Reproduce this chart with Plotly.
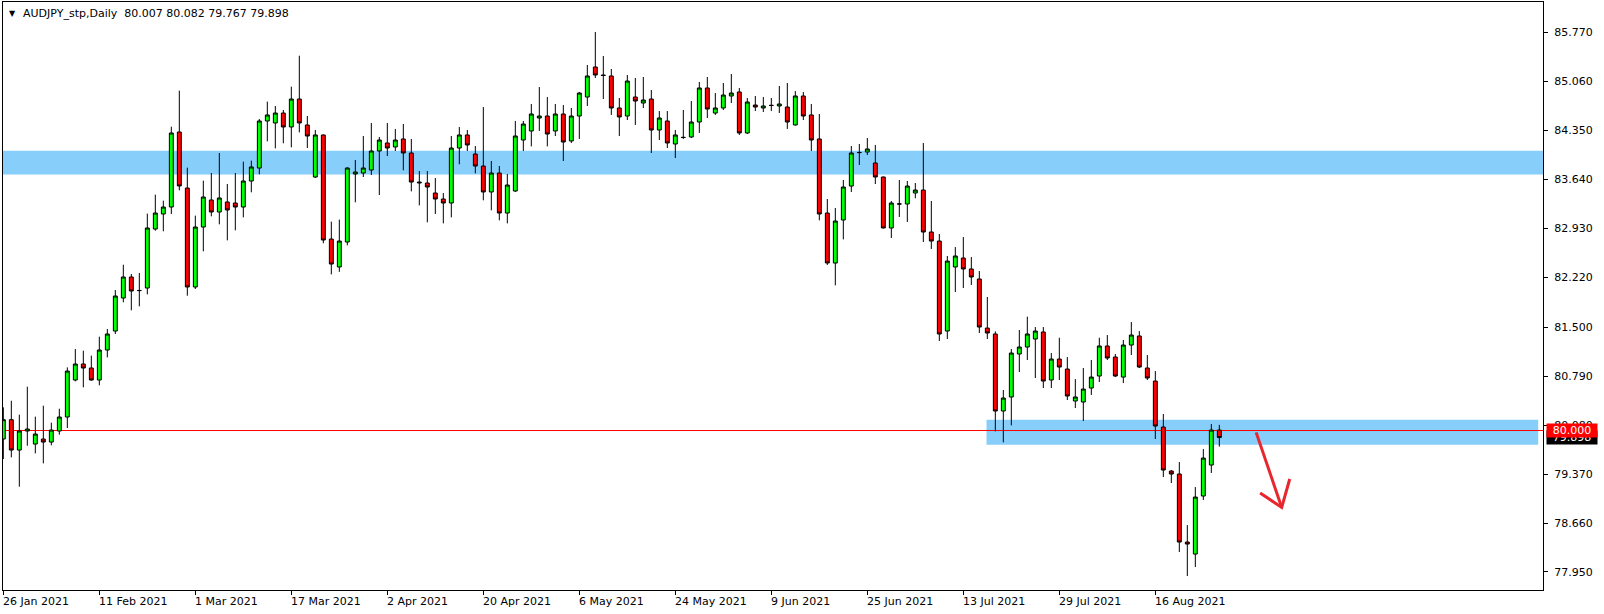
import plotly.graph_objects as go

# ---------------- data ----------------
OPEN = [79.877, 80.157, 79.717, 79.993, 79.804, 79.877, 79.833, 79.993, 80.196, 80.732,
        80.964, 80.906, 80.732, 81.167, 81.442, 81.920, 82.225, 82.030, 82.065, 82.920,
        83.138, 83.239, 84.326, 83.514, 82.080, 82.949, 83.341, 83.167, 83.312, 83.297,
        83.239, 83.616, 83.804, 84.486, 84.457, 84.601, 84.399, 84.804, 84.428, 83.674,
        84.283, 82.775, 82.370, 82.732, 83.717, 83.732, 83.775, 84.051, 84.167, 84.109,
        84.225, 84.022, 83.601, 83.587, 83.442, 83.355, 83.297, 84.094, 84.283, 84.007,
        83.833, 83.457, 83.732, 83.152, 83.471, 84.210, 84.341, 84.529, 84.558, 84.341,
        84.587, 84.196, 84.558, 84.833, 85.268, 85.152, 85.138, 84.674, 84.558, 84.833,
        84.746, 84.804, 84.355, 84.486, 84.152, 84.246, 84.254, 84.471, 84.964, 84.601,
        84.674, 84.848, 84.906, 84.312, 84.717, 84.674, 84.710, 84.703, 84.688, 84.428,
        84.848, 84.573, 84.225, 83.152, 82.427, 83.051, 83.543, 84.030, 84.036, 83.877,
        83.674, 82.935, 83.282, 83.283, 83.442, 83.485, 82.877, 82.746, 81.442, 82.370,
        82.500, 82.341, 82.196, 81.485, 81.399, 80.283, 80.486, 81.109, 81.210, 81.326,
        81.428, 80.732, 81.036, 80.891, 80.428, 80.413, 80.616, 80.790, 81.225, 81.065,
        80.775, 81.239, 81.370, 80.906, 80.717, 80.051, 79.413, 79.370, 78.384, 78.210,
        79.051, 79.500, 80.007]
HIGH = [80.336, 80.432, 80.230, 80.635, 80.201, 80.360, 80.114, 80.316, 80.915, 81.181,
        81.157, 81.085, 81.360, 81.471, 82.036, 82.403, 82.268, 82.283, 83.143, 83.418,
        83.331, 84.403, 84.925, 83.809, 83.114, 83.621, 83.732, 84.022, 83.573, 83.732,
        83.896, 83.911, 84.515, 84.766, 84.703, 84.645, 84.983, 85.432, 84.558, 84.355,
        84.290, 83.027, 83.056, 83.815, 83.920, 84.268, 84.457, 84.254, 84.457, 84.370,
        84.442, 84.225, 83.761, 83.761, 83.659, 83.442, 84.268, 84.399, 84.355, 84.123,
        84.688, 83.906, 83.833, 83.717, 84.486, 84.486, 84.732, 84.978, 84.833, 84.732,
        84.717, 84.674, 84.906, 85.297, 85.775, 85.428, 85.239, 84.819, 85.152, 85.109,
        85.123, 84.935, 84.630, 84.630, 84.355, 84.645, 84.775, 85.051, 85.123, 84.891,
        85.036, 85.167, 84.964, 84.819, 84.848, 84.833, 84.819, 84.993, 85.036, 84.920,
        84.906, 84.732, 84.587, 83.355, 83.225, 83.630, 84.123, 84.152, 84.239, 84.138,
        83.680, 83.326, 83.630, 83.616, 83.587, 84.167, 83.326, 82.848, 82.529, 82.659,
        82.804, 82.514, 82.312, 81.935, 81.437, 80.587, 81.181, 81.457, 81.650, 81.500,
        81.500, 81.123, 81.345, 81.065, 80.746, 80.906, 81.022, 81.345, 81.384, 81.109,
        81.312, 81.572, 81.442, 81.094, 80.862, 80.239, 79.428, 79.543, 78.630, 79.181,
        79.732, 80.094, 80.082]
LOW = [79.587, 79.611, 79.186, 79.780, 79.669, 79.524, 79.785, 79.940, 80.036, 80.713,
       80.626, 80.722, 80.655, 81.060, 81.399, 81.858, 81.742, 81.800, 81.973, 82.896,
       82.887, 83.138, 83.481, 81.954, 82.051, 82.597, 83.104, 82.988, 82.756, 82.901,
       83.089, 83.452, 83.713, 84.191, 84.089, 84.162, 84.104, 84.321, 84.094, 83.660,
       82.713, 82.263, 82.300, 82.684, 83.307, 83.674, 83.703, 83.413, 83.978, 84.051,
       83.771, 83.466, 83.263, 83.017, 83.138, 83.002, 83.089, 83.858, 84.051, 83.727,
       83.336, 83.191, 83.046, 83.002, 83.457, 84.051, 84.118, 84.341, 84.118, 84.268,
       83.906, 84.167, 84.225, 84.703, 85.109, 84.804, 84.573, 84.268, 84.500, 84.428,
       84.674, 84.022, 84.210, 84.094, 83.949, 84.225, 84.239, 84.312, 84.529, 84.573,
       84.645, 84.746, 84.283, 84.297, 84.630, 84.616, 84.630, 84.601, 84.370, 84.420,
       84.500, 84.051, 83.046, 82.399, 82.104, 82.770, 83.456, 83.848, 83.993, 83.572,
       82.930, 82.790, 83.094, 83.022, 83.365, 82.732, 82.630, 81.297, 81.326, 82.007,
       82.065, 82.109, 81.413, 81.326, 79.988, 79.829, 80.075, 80.848, 81.022, 80.761,
       80.616, 80.616, 80.732, 80.442, 80.326, 80.138, 80.515, 80.703, 81.022, 80.775,
       80.688, 81.094, 80.906, 80.732, 79.877, 79.326, 79.239, 78.239, 77.891, 78.022,
       78.993, 79.384, 79.767]
CLOSE = [80.157, 79.717, 79.993, 80.022, 79.949, 79.833, 80.007, 80.196, 80.862, 80.964,
         80.906, 80.732, 81.167, 81.399, 81.949, 82.225, 82.022, 82.028, 82.935, 83.152,
         83.239, 84.312, 83.544, 82.080, 82.949, 83.384, 83.167, 83.370, 83.196, 83.239,
         83.616, 83.819, 84.486, 84.573, 84.601, 84.399, 84.804, 84.457, 84.268, 84.283,
         82.761, 82.413, 82.746, 83.804, 83.746, 83.804, 84.051, 84.210, 84.094, 84.210,
         84.022, 83.601, 83.590, 83.529, 83.355, 83.297, 84.094, 84.283, 84.138, 83.833,
         83.457, 83.732, 83.152, 83.558, 84.268, 84.442, 84.587, 84.558, 84.297, 84.587,
         84.181, 84.558, 84.891, 85.138, 85.152, 85.145, 84.674, 84.544, 85.065, 84.775,
         84.790, 84.355, 84.529, 84.167, 84.283, 84.248, 84.471, 84.964, 84.659, 84.674,
         84.862, 84.891, 84.312, 84.761, 84.688, 84.703, 84.712, 84.732, 84.471, 84.848,
         84.558, 84.210, 83.138, 82.428, 83.036, 83.529, 84.022, 84.028, 84.080, 83.674,
         82.935, 83.297, 83.284, 83.543, 83.485, 82.877, 82.746, 81.399, 82.456, 82.529,
         82.341, 82.225, 81.500, 81.413, 80.283, 80.471, 81.123, 81.210, 81.399, 81.442,
         80.717, 81.036, 80.920, 80.500, 80.486, 80.601, 80.775, 81.225, 81.051, 80.790,
         81.239, 81.384, 80.920, 80.761, 80.065, 79.428, 79.370, 78.384, 78.355, 79.036,
         79.601, 80.007, 79.898]

DATE_LABELS = ["26 Jan 2021", "11 Feb 2021", "1 Mar 2021", "17 Mar 2021", "2 Apr 2021",
               "20 Apr 2021", "6 May 2021", "24 May 2021", "9 Jun 2021", "25 Jun 2021",
               "13 Jul 2021", "29 Jul 2021", "16 Aug 2021"]
DATE_TICK_BARS = [0, 12, 24, 36, 48, 60, 72, 84, 96, 108, 120, 132, 144]

PRICE_TICKS = [85.770, 85.060, 84.350, 83.640, 82.930, 82.220, 81.500,
               80.790, 80.080, 79.370, 78.660, 77.950]

SYMBOL = "AUDJPY_stp,Daily"
LEVEL = 80.000                     # horizontal red line
UPPER_ZONE = (83.712, 84.055)      # blue resistance zone
LOWER_ZONE = (79.795, 80.157)      # blue zone around the level
LOWER_ZONE_START = 122.9           # bar where the lower zone begins
ARROW_SHAFT_X = [156.6, 159.8]
ARROW_SHAFT_Y = [79.973, 78.886]
ARROW_HEAD_X = [157.1, 159.8, 160.8]
ARROW_HEAD_Y = [79.095, 78.886, 79.298]

# ---------------- figure ----------------
FONT = "DejaVu Sans"
BLUE = "#87CEFA"
bars = list(range(len(OPEN)))
X_MIN, X_MAX = -0.04, 192.46
Y_MIN, Y_MAX = 77.689, 86.210

fig = go.Figure()

fig.add_trace(go.Candlestick(
    x=bars, open=OPEN, high=HIGH, low=LOW, close=CLOSE,
    increasing=dict(line=dict(color="black", width=1), fillcolor="#00FF00"),
    decreasing=dict(line=dict(color="black", width=1), fillcolor="#FF0000"),
    whiskerwidth=0, hoverinfo="skip", showlegend=False,
))

# arrow drawing
fig.add_trace(go.Scatter(x=ARROW_SHAFT_X, y=ARROW_SHAFT_Y, mode="lines",
                         line=dict(color="#E8262E", width=3), hoverinfo="skip",
                         showlegend=False))
fig.add_trace(go.Scatter(x=ARROW_HEAD_X, y=ARROW_HEAD_Y, mode="lines",
                         line=dict(color="#E8262E", width=3), hoverinfo="skip",
                         showlegend=False))

shapes = [
    dict(type="rect", xref="x", yref="y", x0=X_MIN, x1=X_MAX,
         y0=UPPER_ZONE[0], y1=UPPER_ZONE[1], fillcolor=BLUE, line=dict(width=0),
         layer="below"),
    dict(type="rect", xref="x", yref="y", x0=LOWER_ZONE_START, x1=X_MAX - 0.6,
         y0=LOWER_ZONE[0], y1=LOWER_ZONE[1], fillcolor=BLUE, line=dict(width=0),
         layer="below"),
    dict(type="line", xref="x", yref="y", x0=X_MIN, x1=X_MAX, y0=LEVEL, y1=LEVEL,
         line=dict(color="#FF0000", width=1), layer="below"),
]

annotations = []
# header
annotations.append(dict(xref="paper", yref="paper", x=0, y=1, xanchor="left",
                        yanchor="middle", xshift=4, yshift=-11, showarrow=False,
                        text="▼", font=dict(family=FONT, size=8, color="black")))
last = len(CLOSE) - 1
header = (SYMBOL + "\u00a0\u00a0" + "\u00a0".join(
    f"{v:.3f}" for v in (OPEN[last], HIGH[last], LOW[last], CLOSE[last])))
annotations.append(dict(xref="paper", yref="paper", x=0, y=1, xanchor="left",
                        yanchor="middle", xshift=18, yshift=-11, showarrow=False,
                        text=header, font=dict(family=FONT, size=11, color="black")))
# date labels (left aligned at tick, MT4 style)
for b, lab in zip(DATE_TICK_BARS, DATE_LABELS):
    annotations.append(dict(xref="x", yref="paper", x=b, y=0, xanchor="left",
                            yanchor="middle", xshift=-2, yshift=-11, showarrow=False,
                            text=lab, font=dict(family=FONT, size=11, color="black")))
# price boxes on the axis
annotations.append(dict(xref="paper", yref="y", x=1, y=CLOSE[last], xanchor="left",
                        yanchor="middle", xshift=3, showarrow=False,
                        text=f"{CLOSE[last]:.3f}", bgcolor="black", width=50, height=13,
                        borderpad=0, font=dict(family=FONT, size=11, color="white")))
annotations.append(dict(xref="paper", yref="y", x=1, y=LEVEL, xanchor="left",
                        yanchor="middle", xshift=3, showarrow=False,
                        text=f"{LEVEL:.3f}", bgcolor="#FF0000", width=50, height=13,
                        borderpad=0, font=dict(family=FONT, size=11, color="white")))

fig.update_layout(
    width=1604, height=614,
    margin=dict(l=3, r=61, t=2, b=24),
    paper_bgcolor="white", plot_bgcolor="white",
    showlegend=False, hovermode=False,
    font=dict(family=FONT, size=11, color="black"),
    shapes=shapes, annotations=annotations,
    xaxis=dict(range=[X_MIN, X_MAX], rangeslider=dict(visible=False),
               showgrid=False, zeroline=False, showline=True, mirror=True,
               linecolor="black", linewidth=1, ticks="outside", ticklen=4,
               tickcolor="black", tickvals=DATE_TICK_BARS, showticklabels=False,
               fixedrange=True),
    yaxis=dict(range=[Y_MIN, Y_MAX], side="right", showgrid=False, zeroline=False,
               showline=True, mirror=True, linecolor="black", linewidth=1,
               ticks="outside", ticklen=4, tickcolor="black",
               tickvals=PRICE_TICKS, ticktext=[f"{v:.3f}" for v in PRICE_TICKS],
               tickfont=dict(family=FONT, size=11, color="black"),
               ticklabelstandoff=4, fixedrange=True),
)

fig.write_html("out.html", config={"displayModeBar": False},
               post_script="document.body.style.margin='0';document.body.style.overflow='hidden';")
